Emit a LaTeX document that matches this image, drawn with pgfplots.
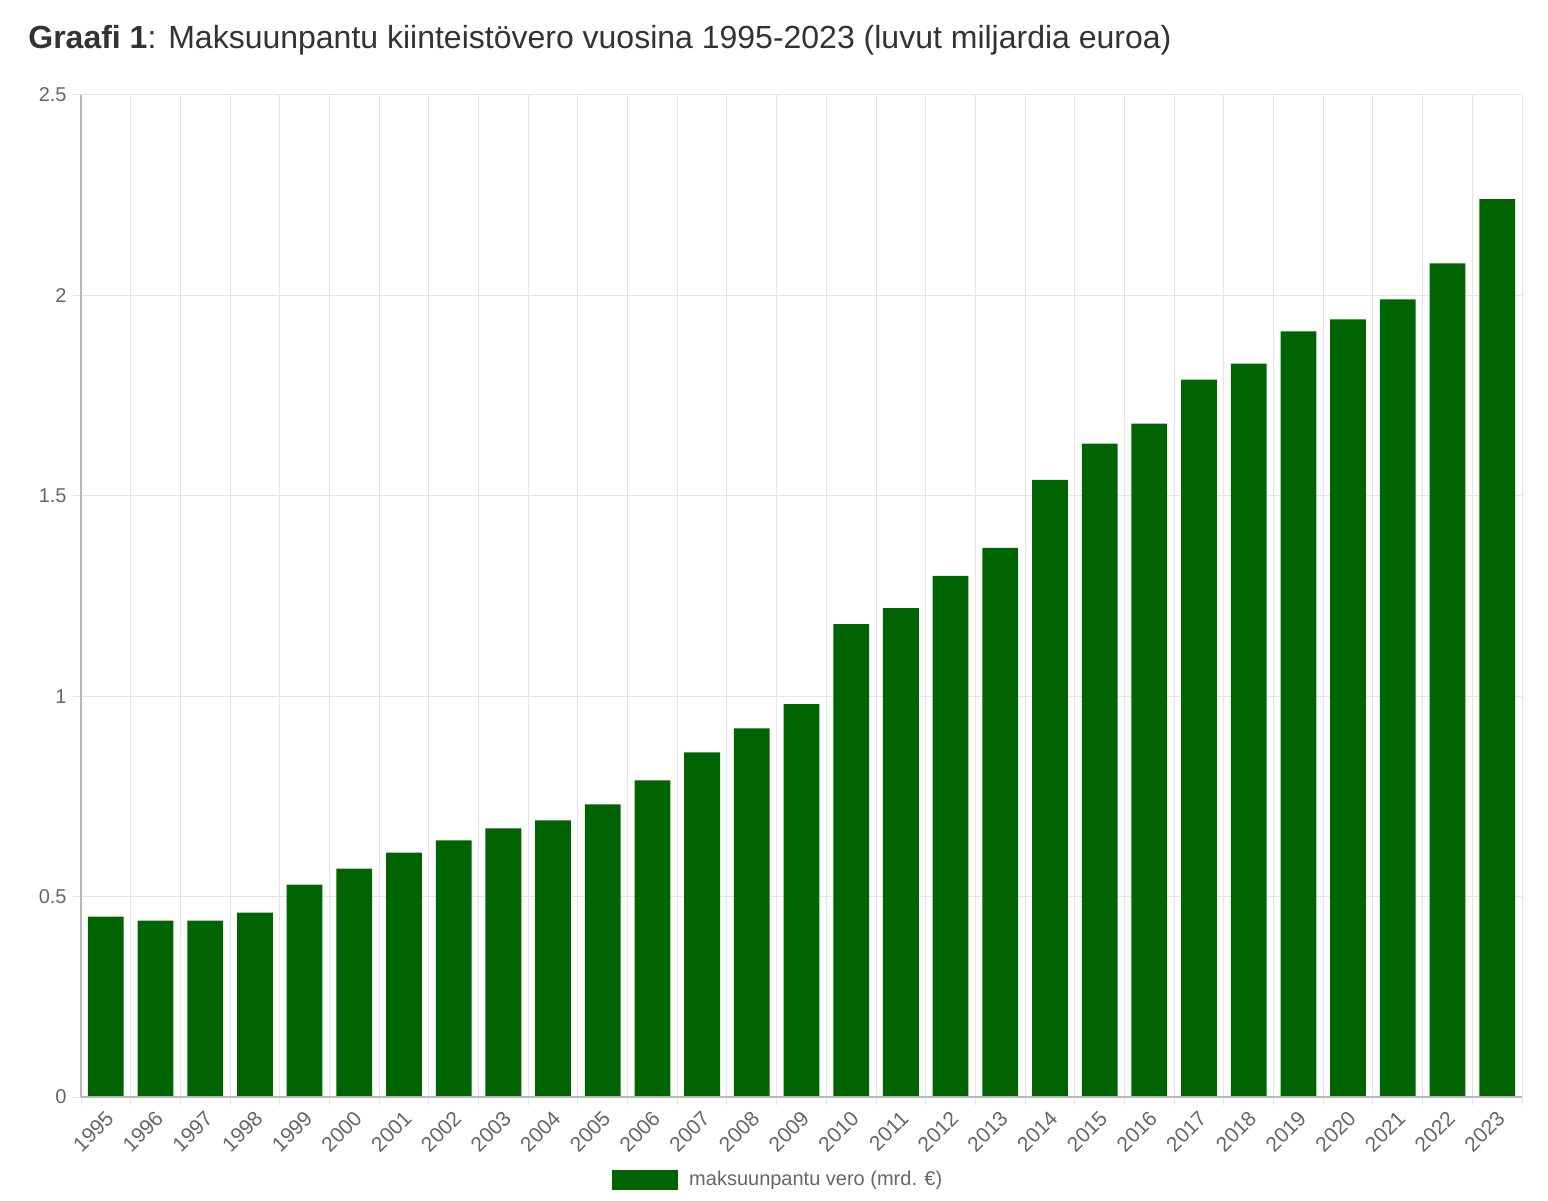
\documentclass[border=0pt]{standalone}
\usepackage{pgfplots}
\pgfplotsset{compat=1.18}
\usepackage{fontspec}
\setmainfont{Liberation Sans}
\definecolor{bargreen}{HTML}{006400}
\definecolor{ticktxt}{HTML}{666666}
\definecolor{gridc}{HTML}{E4E4E4}
\definecolor{axisc}{HTML}{B8B8B8}
\definecolor{titlec}{HTML}{333333}
\begin{document}
\begin{tikzpicture}
\useasboundingbox (-40.5pt,-51.5pt) rectangle (733.5pt,548.5pt);
\begin{axis}[
  at={(0,0)}, anchor=south west,
  scale only axis, width=720.5pt, height=501pt,
  xmin=-0.5, xmax=28.5, ymin=0, ymax=2.5,
  ybar, bar width=0.72, bar shift=0pt,
  xtick={0,...,28},
  xticklabels={1995,1996,1997,1998,1999,2000,2001,2002,2003,2004,2005,2006,2007,2008,2009,2010,2011,2012,2013,2014,2015,2016,2017,2018,2019,2020,2021,2022,2023},
  minor xtick={-0.5,0.5,...,28.5},
  major x tick style={draw=none},
  minor x tick style={draw=gridc, line width=0.5pt},
  minor x grid style={gridc, line width=0.5pt},
  xminorgrids=true,
  ytick={0,0.5,1,1.5,2,2.5},
  yticklabels={0,0.5,1,1.5,2,2.5},
  ymajorgrids=true,
  major y grid style={gridc, line width=0.5pt},
  y tick style={draw=gridc, line width=0.5pt},
  tick align=outside, major tick length=4pt, minor tick length=4pt,
  axis line style={draw=none},
  axis x line*=bottom, axis y line*=left,
  tick label style={text=ticktxt},
  xticklabel style={font=\fontsize{10.5}{12}\selectfont, rotate=45, anchor=north east, inner sep=1pt, xshift=-1pt, yshift=0pt},
  yticklabel style={font=\fontsize{10}{12}\selectfont, inner sep=2pt, xshift=-1pt},
  legend style={at={(0.487,-0.083)}, anchor=center, draw=none, fill=none,
    font=\fontsize{10}{12}\selectfont, text=ticktxt, legend columns=1,
    nodes={inner xsep=5.5pt}},
  legend image code/.code={\fill[bargreen] (0pt,-5pt) rectangle (33pt,5pt);},
  clip=false,
]
\addplot[fill=bargreen, draw=none] coordinates {
(0,0.45) (1,0.44) (2,0.44) (3,0.46) (4,0.53) (5,0.57) (6,0.61) (7,0.64)
(8,0.67) (9,0.69) (10,0.73) (11,0.79) (12,0.86) (13,0.92) (14,0.98)
(15,1.18) (16,1.22) (17,1.30) (18,1.37) (19,1.54) (20,1.63) (21,1.68)
(22,1.79) (23,1.83) (24,1.91) (25,1.94) (26,1.99) (27,2.08) (28,2.24)
};
\addlegendentry{maksuunpantu vero (mrd. €)}
\draw[axisc, line width=0.7pt] (axis cs:-0.5,0) -- (axis cs:28.5,0);
\draw[axisc, line width=0.7pt] (axis cs:-0.5,0) -- (axis cs:-0.5,2.5);
\end{axis}
\node[anchor=base west, text=titlec, inner sep=0pt, font=\fontsize{16}{19}\selectfont] at (-26.5pt,524pt) {\textbf{Graafi 1}: Maksuunpantu kiinteistövero vuosina 1995-2023 (luvut miljardia euroa)};
\end{tikzpicture}
\end{document}
